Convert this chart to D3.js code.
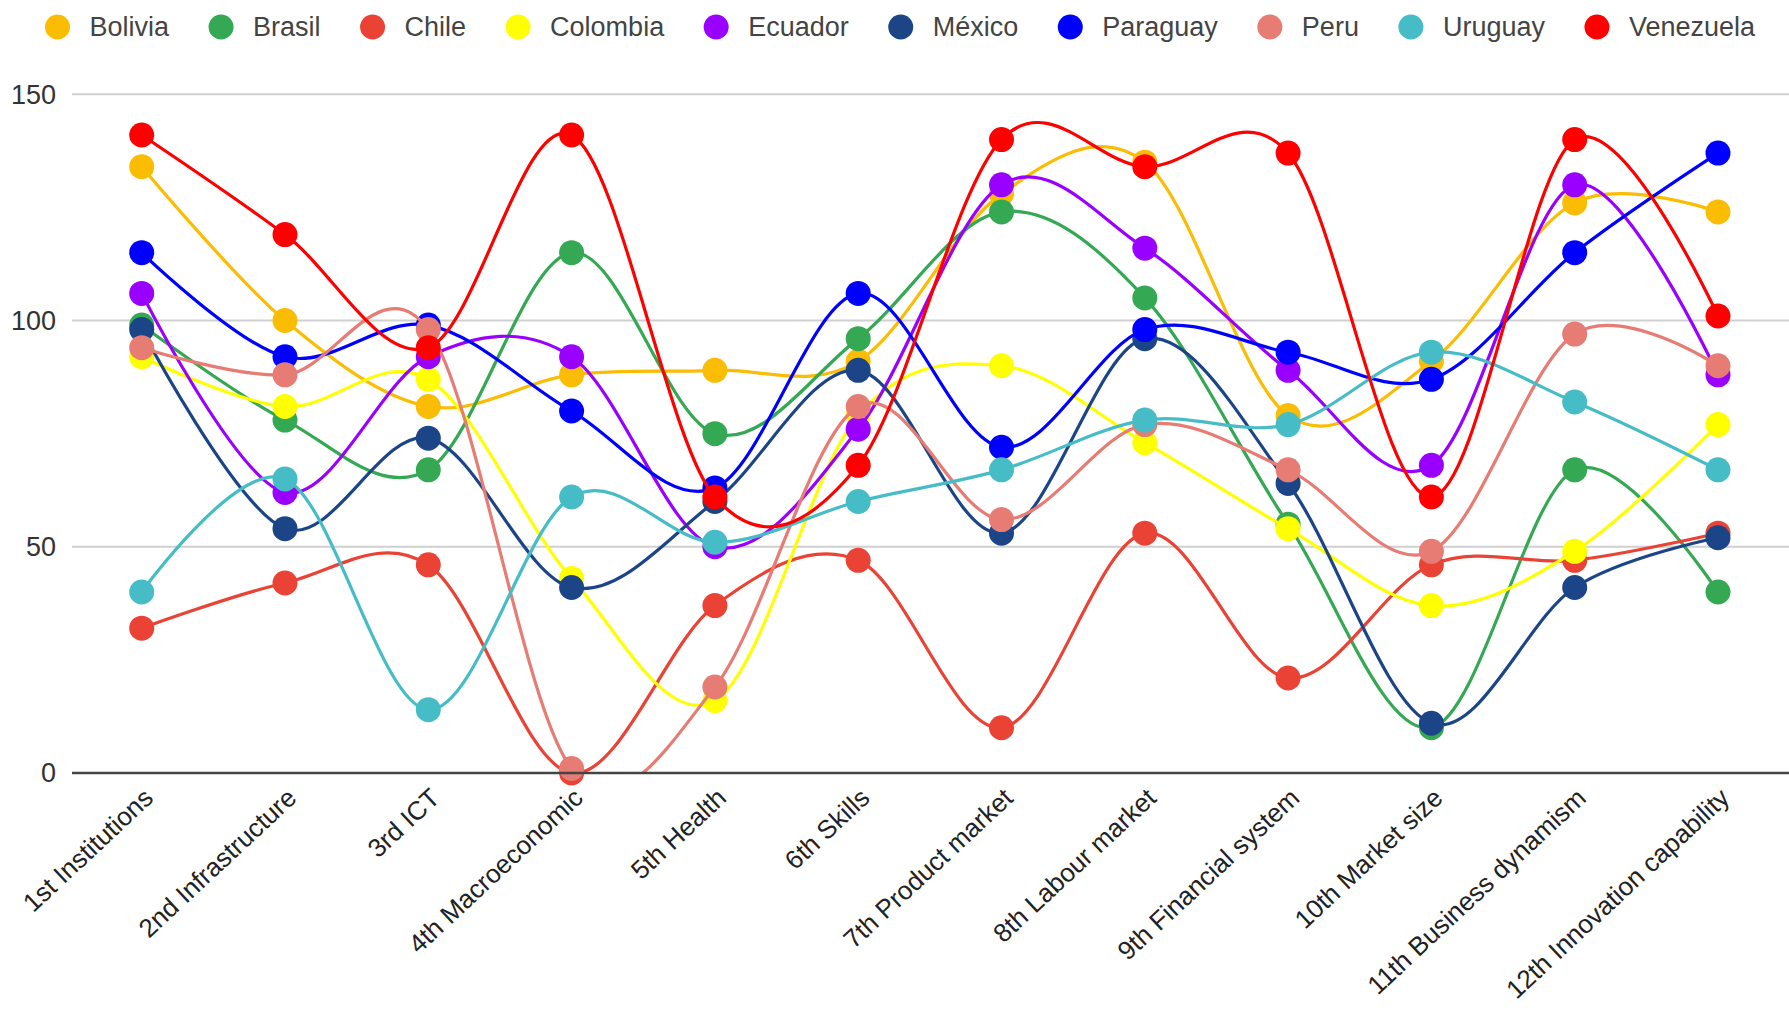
<!DOCTYPE html>
<html>
<head>
<meta charset="utf-8">
<script src="https://cdn.jsdelivr.net/npm/d3@7"></script>
<style>
  html, body { margin: 0; padding: 0; background: #fff; }
  svg { display: block; }
  text { font-family: 'Liberation Sans', Arial, sans-serif; }
</style>
</head>
<body>
<svg id="chart" width="1789" height="1019"></svg>
<script>
const categories = ["1st Institutions","2nd Infrastructure","3rd ICT","4th Macroeconomic","5th Health","6th Skills","7th Product market","8th Labour market","9th Financial system","10th Market size","11th Business dynamism","12th Innovation capability"];

const seriesNames = ["Bolivia","Brasil","Chile","Colombia","Ecuador","México","Paraguay","Peru","Uruguay","Venezuela"];
const seriesColors = ["#fbbc04","#34a853","#ea4335","#ffff00","#9900ff","#1c4587","#0000ff","#e67c73","#46bdc6","#ff0000"];

const bolivia   = [134,100, 81, 88, 89, 91,128,135, 79, 91,126,124];
const brasil    = [ 99, 78, 67,115, 75, 96,124,105, 55, 10, 67, 40];
const chile     = [ 32, 42, 46,  0, 37, 47, 10, 53, 21, 46, 47, 53];
const colombia  = [ 92, 81, 87, 43, 16, 79, 90, 73, 54, 37, 49, 77];
const ecuador   = [106, 62, 92, 92, 50, 76,130,116, 89, 68,130, 88];
const mexico    = [ 98, 54, 74, 41, 60, 89, 53, 96, 64, 11, 41, 52];
const paraguay  = [115, 92, 99, 80, 63,106, 72, 98, 93, 87,115,137];
const peru      = [ 94, 88, 98,  1, 19, 81, 56, 77, 67, 49, 97, 90];
const uruguay   = [ 40, 65, 14, 61, 51, 60, 67, 78, 77, 93, 82, 67];
const venezuela = [141,119, 94,141, 61, 68,140,134,137, 61,140,101];

const yTicks = [0, 50, 100, 150];

const seriesValues = [bolivia, brasil, chile, colombia, ecuador, mexico, paraguay, peru, uruguay, venezuela];
const series = seriesNames.map((n, i) => ({ name: n, color: seriesColors[i], values: seriesValues[i] }));

const svg = d3.select("#chart");
const plotLeft = 72, plotRight = 1789, plotTop = 94.3, plotBottom = 773;

const x = d3.scalePoint().domain(categories).range([141.7, 1718]);
const y = d3.scaleLinear().domain([0, 150]).range([plotBottom, plotTop]);

// gridlines
svg.append("g").selectAll("line").data(yTicks.filter(t => t !== 0)).join("line")
  .attr("x1", plotLeft).attr("x2", plotRight)
  .attr("y1", d => y(d)).attr("y2", d => y(d))
  .attr("stroke", "#d0d0d0").attr("stroke-width", 2);

// y labels
svg.append("g").selectAll("text").data(yTicks).join("text")
  .attr("x", 56).attr("y", d => y(d)).attr("dy", "0.35em")
  .attr("text-anchor", "end").attr("font-size", 27).attr("fill", "#333")
  .text(d => d);

// clip
svg.append("defs").append("clipPath").attr("id", "plotclip")
  .append("rect").attr("x", plotLeft).attr("y", plotTop - 20)
  .attr("width", plotRight - plotLeft).attr("height", plotBottom - plotTop + 20);

const line = d3.line()
  .x((d, i) => x(categories[i]))
  .y(d => y(d))
  .curve(d3.curveCardinal.tension(0));

const plot = svg.append("g");
series.forEach(s => {
  const g = plot.append("g");
  g.append("path")
    .attr("d", line(s.values))
    .attr("fill", "none")
    .attr("stroke", s.color)
    .attr("stroke-width", 3.2)
    .attr("clip-path", "url(#plotclip)");
  g.selectAll("circle").data(s.values).join("circle")
    .attr("cx", (d, i) => x(categories[i]))
    .attr("cy", d => y(d))
    .attr("r", 12.5)
    .attr("fill", s.color);
});

// baseline
svg.append("line")
  .attr("x1", plotLeft).attr("x2", plotRight)
  .attr("y1", y(0)).attr("y2", y(0))
  .attr("stroke", "#444").attr("stroke-width", 2.5);

// x labels
svg.append("g").selectAll("text").data(categories).join("text")
  .attr("transform", d => `translate(${x(d) + 13},${800}) rotate(-43)`)
  .attr("text-anchor", "end")
  .attr("font-size", 26).attr("fill", "#222")
  .text(d => d);

// legend
const legend = svg.append("g");
let cx = 57.5;
series.forEach(s => {
  legend.append("circle").attr("cx", cx).attr("cy", 27).attr("r", 12.5).attr("fill", s.color);
  const t = legend.append("text").attr("x", cx + 32).attr("y", 27).attr("dy", "0.35em")
    .attr("font-size", 27).attr("fill", "#444").text(s.name);
  const w = t.node().getComputedTextLength();
  cx = cx + 32 + w + 52;
});
</script>
</body>
</html>
